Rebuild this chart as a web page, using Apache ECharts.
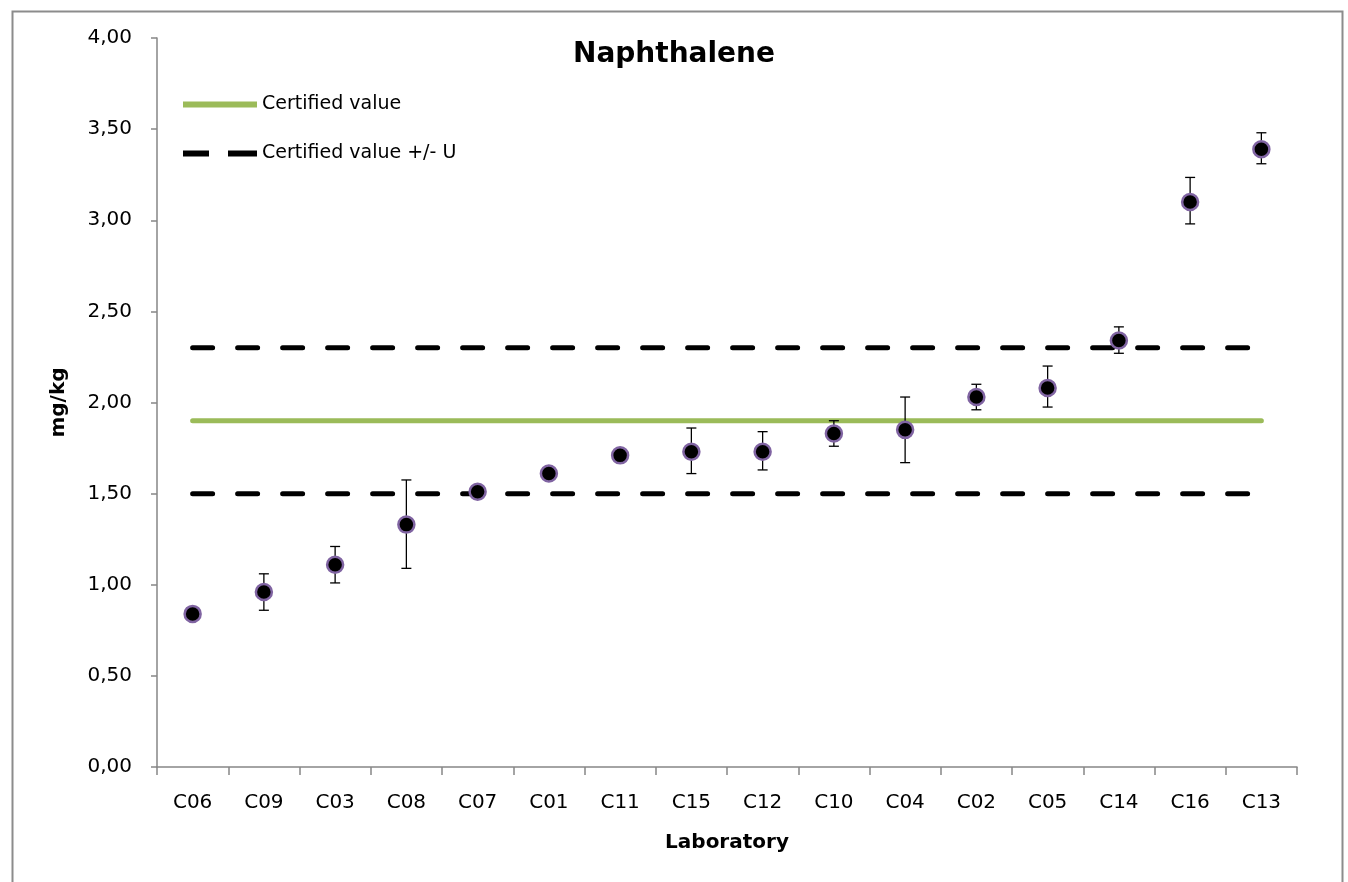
<!DOCTYPE html>
<html>
<head>
<meta charset="utf-8">
<script src="https://cdn.jsdelivr.net/npm/echarts@6/dist/echarts.min.js"></script>
<style>
html,body{margin:0;padding:0;background:#fff;}
#chart{width:1348px;height:882px;}
</style>
</head>
<body>
<div id="chart"></div>
<script>
var categories = ['C06','C09','C03','C08','C07','C01','C11','C15','C12','C10','C04','C02','C05','C14','C16','C13'];
var means = [0.84,0.96,1.11,1.33,1.51,1.61,1.71,1.73,1.73,1.83,1.85,2.03,2.08,2.34,3.10,3.39];
var lows  = [null,0.86,1.01,1.09,null,null,null,1.61,1.63,1.76,1.67,1.96,1.975,2.27,2.98,3.31];
var highs = [null,1.06,1.21,1.575,null,null,null,1.86,1.84,1.90,2.03,2.10,2.20,2.415,3.235,3.48];
var certifiedValue = 1.90;
var upperU = 2.30;
var lowerU = 1.50;

var FONT = 'DejaVu Sans';
var certLine = categories.map(function(){return certifiedValue;});
var upperLine = categories.map(function(){return upperU;});
var lowerLine = categories.map(function(){return lowerU;});
var errData = [];
categories.forEach(function(c,i){
  if (lows[i] != null && highs[i] != null) errData.push([i, lows[i], highs[i]]);
});

var chart = echarts.init(document.getElementById('chart'), null, {renderer:'canvas'});
chart.setOption({
  animation:false,
  backgroundColor:'#fff',
  textStyle:{fontFamily:FONT},
  graphic:[{
    type:'rect', left:10, top:9, silent:true, z:-1,
    shape:{width:1330, height:900},
    style:{fill:'none', stroke:'#8c8c8c', lineWidth:2}
  }],
  title:{
    text:'Naphthalene', left:'center', top:41, padding:0,
    textStyle:{fontFamily:FONT, fontSize:28, fontWeight:'bold', color:'#000'}
  },
  legend:{
    orient:'vertical', left:183, top:95, itemGap:30, padding:0,
    itemWidth:74, itemHeight:6,
    data:[
      {name:'Certified value', icon:'path://M0,0L74,0L74,6L0,6Z', itemStyle:{color:'#9BBB59'}},
      {name:'Certified value +/- U', icon:'path://M0,0L26,0L26,6L0,6Z M45,0L74,0L74,6L45,6Z', itemStyle:{color:'#000'}}
    ],
    textStyle:{fontFamily:FONT, fontSize:19, color:'#000'}
  },
  grid:{left:157, right:51, top:38, bottom:115},
  xAxis:{
    type:'category', data:categories, boundaryGap:true,
    name:'Laboratory', nameLocation:'middle', nameGap:66,
    nameTextStyle:{fontFamily:FONT, fontSize:20, fontWeight:'bold', color:'#000'},
    axisLine:{lineStyle:{color:'#868686', width:1.5}},
    axisTick:{show:true, alignWithLabel:false, length:8, lineStyle:{color:'#868686', width:1.5}},
    axisLabel:{fontFamily:FONT, fontSize:20, color:'#000', margin:26, interval:0},
    splitLine:{show:false}
  },
  yAxis:{
    type:'value', min:0, max:4, interval:0.5,
    name:'mg/kg', nameLocation:'middle', nameGap:88, nameRotate:90,
    nameTextStyle:{fontFamily:FONT, fontSize:20, fontWeight:'bold', color:'#000'},
    axisLine:{show:true, lineStyle:{color:'#868686', width:1.5}},
    axisTick:{show:true, length:6, lineStyle:{color:'#868686', width:1.5}},
    axisLabel:{fontFamily:FONT, fontSize:20, color:'#000', margin:25,
      formatter:function(v){return v.toFixed(2).replace('.',',');}},
    splitLine:{show:false}
  },
  series:[
    {
      name:'Certified value', type:'line', data:certLine, symbol:'none',
      lineStyle:{color:'#9BBB59', width:5, cap:'round'}, itemStyle:{color:'#9BBB59'}, z:2
    },
    {
      name:'Certified value +/- U', type:'line', data:upperLine, symbol:'none',
      lineStyle:{color:'#000', width:5, type:[20,25], cap:'round'}, itemStyle:{color:'#000'}, z:2
    },
    {
      name:'Certified value +/- U', type:'line', data:lowerLine, symbol:'none',
      lineStyle:{color:'#000', width:5, type:[20,25], cap:'round'}, itemStyle:{color:'#000'}, z:2
    },
    {
      name:'err', type:'custom', data:errData, z:3,
      renderItem:function(params, api){
        var x = api.value(0);
        var lo = api.coord([x, api.value(1)]);
        var hi = api.coord([x, api.value(2)]);
        var cw = 5;
        var st = {stroke:'#000', lineWidth:1.3};
        return {type:'group', children:[
          {type:'line', shape:{x1:lo[0],y1:lo[1],x2:hi[0],y2:hi[1]}, style:st},
          {type:'line', shape:{x1:lo[0]-cw,y1:lo[1],x2:lo[0]+cw,y2:lo[1]}, style:st},
          {type:'line', shape:{x1:hi[0]-cw,y1:hi[1],x2:hi[0]+cw,y2:hi[1]}, style:st}
        ]};
      }
    },
    {
      name:'Laboratory', type:'scatter', data:means, symbol:'circle', symbolSize:16, z:4,
      itemStyle:{color:'#000', borderColor:'#8064A2', borderWidth:2.5, opacity:1}
    }
  ]
});
</script>
</body>
</html>
